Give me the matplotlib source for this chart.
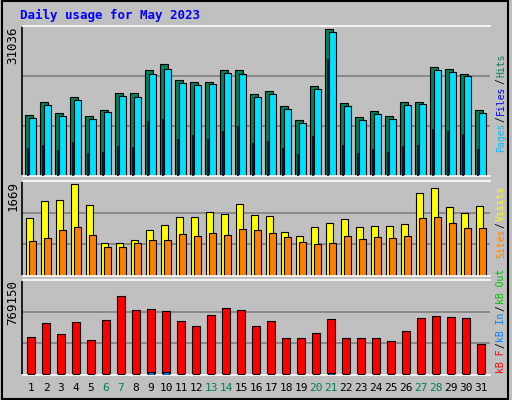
import numpy as np
import matplotlib.pyplot as plt

days = list(range(1, 32))
weekend = [6, 7, 13, 14, 20, 21, 27, 28]

# maxima shown on the axes
max_hits = 31036
max_visits = 1669
max_kb = 769150

# values
hits = [12620, 15310, 13030, 16340, 12410, 13650, 17170, 17170, 21930, 23170, 19860,
        19450, 19450, 21930, 21930, 16960, 17590, 14480, 11590, 18620, 30410, 15100,
        12210, 13450, 12410, 15310, 15310, 22550, 22140, 21100, 13650]
files = [12000, 14690, 12410, 15720, 11790, 13240, 16550, 16340, 21100, 22140, 19250,
         18830, 19040, 21310, 21100, 16340, 16960, 13860, 10970, 18000, 29790, 14480,
         11590, 12830, 11790, 14690, 14900, 21930, 21520, 20690, 13030]
pages = [5790, 6410, 5380, 7030, 4760, 4970, 6210, 6000, 11380, 11790, 7650,
         8480, 7650, 9310, 10340, 6800, 7200, 5800, 4600, 8200, 24200, 6500,
         4800, 5600, 4900, 6300, 6500, 9700, 9300, 8700, 5600]
visits = [1019, 1318, 1335, 1616, 1247, 580, 580, 633, 808, 896, 1037,
          1037, 1124, 1089, 1265, 1072, 1054, 773, 703, 861, 931, 1002,
          861, 878, 878, 913, 1458, 1546, 1212, 1107, 1230]
sites = [615, 668, 808, 861, 720, 510, 510, 580, 633, 633, 738,
         703, 756, 720, 826, 808, 756, 685, 598, 562, 580, 703,
         650, 685, 668, 703, 1019, 1037, 931, 843, 843]
kb_f = [307600, 420000, 331900, 426100, 283300, 445300, 639300, 526000, 532100, 520000, 437400,
        392800, 486700, 542700, 530000, 392800, 437400, 303600, 303600, 340000, 453400, 303600,
        303600, 303600, 273100, 356200, 461500, 481700, 469500, 461500, 250000]
kb_in = [12000] * 31
kb_in[8] = 22000
kb_in[9] = 22000
kb_in[20] = 18000

bg = '#c0c0c0'
plt.rcParams['font.family'] = 'DejaVu Sans Mono'
fig = plt.figure(figsize=(5.12, 4.0), dpi=100, facecolor=bg)

x = np.arange(len(days))
left, width = 22 / 512, 468 / 512
ax1 = fig.add_axes([left, 1 - 176 / 400, width, 150 / 400])
ax2 = fig.add_axes([left, 1 - 276 / 400, width, 95 / 400])
ax3 = fig.add_axes([left, 1 - 375 / 400, width, 95 / 400])

for ax, top in [(ax1, max_hits), (ax2, max_visits), (ax3, max_kb)]:
    ax.set_facecolor(bg)
    ax.set_xlim(-0.6, len(days) - 0.4)
    ax.set_ylim(0, top)
    for f in (1 / 3, 2 / 3):
        ax.axhline(top * f, color='#808080', lw=1.2, zorder=0)
    ax.set_yticks([top])
    ax.set_yticklabels([str(top)], rotation=90, va='top', fontsize=9)
    ax.tick_params(length=0, pad=2)
    ax.set_xticks([])
    for s in ax.spines.values():
        s.set_color('black')
        s.set_linewidth(1.2)
    ax.spines['right'].set_visible(False)
    ax.spines['top'].set_color('white')
    ax.spines['bottom'].set_color('white')

ax1.bar(x - 0.12, hits, 0.5, color='#00805c', edgecolor='black', lw=0.8, zorder=2)
ax1.bar(x + 0.1, files, 0.5, color='#00e0ff', edgecolor='black', lw=0.8, zorder=2)
ax1.bar(x - 0.24, pages, 0.1, color='#0040ff', edgecolor='black', lw=0.5, zorder=3)

ax2.bar(x - 0.1, visits, 0.5, color='#ffff00', edgecolor='black', lw=0.8, zorder=2)
ax2.bar(x + 0.1, sites, 0.5, color='#ff8000', edgecolor='black', lw=0.8, zorder=2)

ax3.bar(x, kb_f, 0.5, color='#ff0000', edgecolor='black', lw=0.8, zorder=2)
ax3.bar(x, kb_in, 0.45, color='#0080ff', edgecolor='black', lw=0.8, zorder=3)

ax3.set_xticks(x)
ax3.set_xticklabels([str(d) for d in days], fontsize=8)
for lab, d in zip(ax3.get_xticklabels(), days):
    if d in weekend:
        lab.set_color('#00805c')
ax3.tick_params(axis='x', pad=6)

fig.text(20 / 512, 1 - 15 / 400, 'Daily usage for May 2023', color='#0000ff',
         fontsize=9, fontweight='bold', va='center')


def side_label(parts, ymid):
    # rotated legend built from bottom to top
    y0 = ymid
    for txt, col in parts:
        t = fig.text(501 / 512, y0, txt, color=col, rotation=90, fontsize=7,
                     ha='center', va='bottom')
        fig.canvas.draw()
        bb = t.get_window_extent()
        y0 = (bb.y1 + 1) / fig.bbox.height


side_label([('Pages', '#00c0ff'), ('/', '#000000'), ('Files', '#0000ff'),
            ('/', '#000000'), ('Hits', '#00805c')], 1 - 176 / 400 + 0.06)
side_label([('Sites', '#ff8000'), ('/', '#000000'), ('Visits', '#ffff00')],
           1 - 276 / 400 + 0.045)
side_label([('kB F', '#ff0000'), ('/', '#000000'), ('kB In', '#0080ff'),
            ('/', '#000000'), ('kB Out', '#00c000')], 1 - 375 / 400 + 0.005)

# outer frame
fig.patches.append(plt.Rectangle((0.003, 0.003), 0.99, 0.994, transform=fig.transFigure,
                                 fill=False, edgecolor='black', lw=1.5))

fig.savefig('out.png', dpi=100, facecolor=bg)
